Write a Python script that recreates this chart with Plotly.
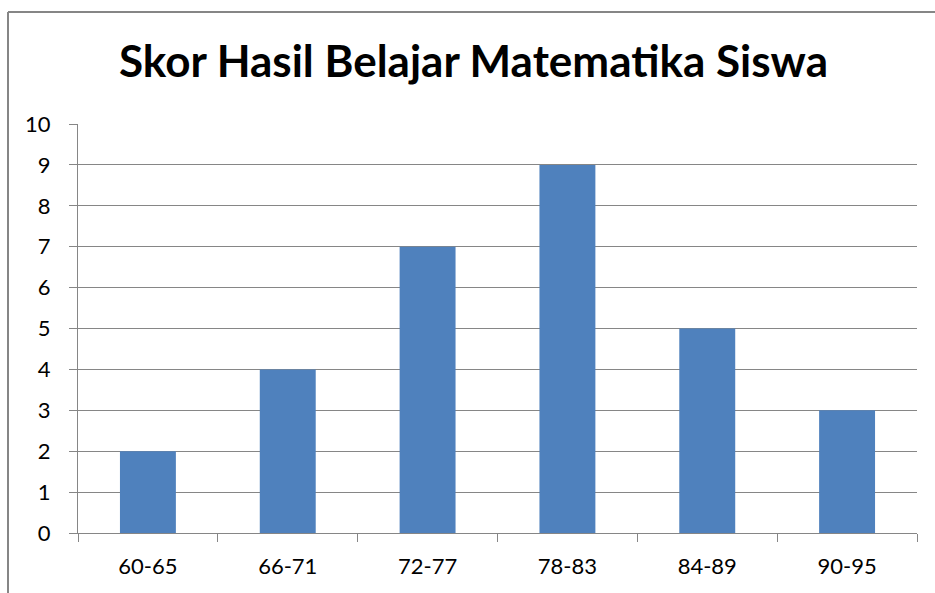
import plotly.graph_objects as go

categories = ["60-65", "66-71", "72-77", "78-83", "84-89", "90-95"]
values = [2, 4, 7, 9, 5, 3]
y_ticks = list(range(0, 11))

W, H = 935, 593
L, R, T, B = 78, 18, 124, 60
pw, ph = W - L - R, H - T - B

fig = go.Figure(go.Bar(x=categories, y=values, marker=dict(color="#4F81BD", line=dict(width=0))))

font_family = "Lato, Open Sans, sans-serif"
fig.update_layout(
    width=W, height=H,
    margin=dict(l=L, r=R, t=T, b=B),
    paper_bgcolor="white", plot_bgcolor="white",
    bargap=0.6,
    showlegend=False,
    title=dict(text="<b>Skor Hasil Belajar Matematika Siswa</b>", x=473.5 / W, xref="container",
               y=1 - 62 / H, yref="container", yanchor="middle", xanchor="center",
               font=dict(family=font_family, size=44, color="black")),
    font=dict(family=font_family, size=22, color="black"),
)
fig.update_xaxes(
    showline=True, linecolor="#868686", linewidth=1,
    ticks="outside", ticklen=8, tickcolor="#868686", tickson="boundaries",
    showgrid=False, ticklabelstandoff=14,
    tickfont=dict(size=22, color="black"),
)
fig.update_yaxes(
    range=[0, 10], tickvals=y_ticks, showline=True, linecolor="#868686", linewidth=1,
    ticks="outside", ticklen=8, tickcolor="#868686",
    showgrid=True, gridcolor="#868686", gridwidth=1, zeroline=False,
    ticklabelstandoff=14, tickfont=dict(size=22, color="black"),
)
# outer chart border (left and top visible)
x_left = (8 - L) / pw
y_top = 1 + (T - 12) / ph
fig.add_shape(type="line", xref="paper", yref="paper", x0=x_left, x1=x_left, y0=y_top, y1=-2,
              line=dict(color="#868686", width=2))
fig.add_shape(type="line", xref="paper", yref="paper", x0=x_left, x1=3, y0=y_top, y1=y_top,
              line=dict(color="#868686", width=2))

fig.write_html("out.html", config={"displayModeBar": False},
               post_script="document.body.style.margin='0';document.body.style.overflow='hidden';")
